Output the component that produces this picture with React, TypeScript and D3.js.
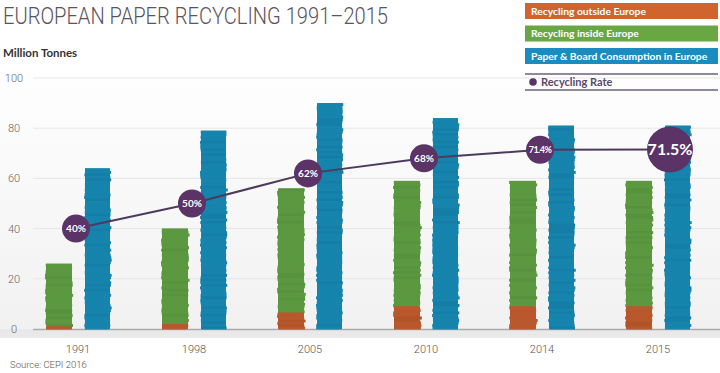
import React from "react";
import * as d3 from "d3";

const width = 720;
const height = 373;
const margin = { top: 78, right: 0, bottom: 44, left: 33 };

// data (million tonnes / percent)
const years = ["1991", "1998", "2005", "2010", "2014", "2015"];
const outsideEurope = [1, 2, 6.5, 9, 9, 9];
const insideEurope = [25, 38, 49.5, 50, 50, 50];
const consumption = [64, 79, 90, 84, 81, 81];
const recyclingRate = [40, 50, 62, 68, 71.4, 71.5];
const rateLabels = ["40%", "50%", "62%", "68%", "71.4%", "71.5%"];
const yTicks = [0, 20, 40, 60, 80, 100];

const legendItems = [
  { label: "Recycling outside Europe", color: "#cf642f" },
  { label: "Recycling inside Europe", color: "#69a742" },
  { label: "Paper & Board Consumption in Europe", color: "#1b8cbf" },
];

const colors = {
  orange: "#b8582c",
  green: "#5b9840",
  blue: "#1684ad",
  purple: "#5b3366",
  line: "#4e3a5c",
};

// deterministic wobble for the "paper stack" edges
function wobble(n: number) {
  const s = Math.sin(n * 12.9898 + 78.233) * 43758.5453;
  return s - Math.floor(s);
}

function PaperStack(props: {
  x: number;
  y0: number;
  y1: number;
  w: number;
  color: string;
  seed: number;
}) {
  const { x, y0, y1, w, color, seed } = props;
  const strip = 2.5;
  const n = Math.max(1, Math.round((y1 - y0) / strip));
  const h = (y1 - y0) / n;
  const base = d3.color(color)!;
  const strips = d3.range(n).map((i) => {
    const a = wobble(seed * 131 + i);
    const b = wobble(seed * 71 + i * 3.1);
    const c = wobble(seed * 17 + i * 5.7);
    const dx = (a - 0.5) * 2;
    const dw = (b - 0.5) * 2;
    const fill = c > 0.8 ? base.darker(0.12) : base;
    return (
      <rect
        key={i}
        x={x + dx}
        y={y0 + i * h}
        width={w + dw}
        height={h + 0.5}
        fill={fill.toString()}
      />
    );
  });
  return (
    <g>
      <rect x={x} y={y0} width={w} height={y1 - y0} fill={color} />
      {strips}
    </g>
  );
}

function Chart() {
  const xScale = d3.scalePoint().domain(years).range([78, 658]);
  const yScale = d3
    .scaleLinear()
    .domain([0, 100])
    .range([height - margin.bottom, margin.top]);
  const barW = 26;

  const ratePoints: [number, number][] = years.map((yr, i) => [
    xScale(yr)! + (i === years.length - 1 ? 12 : -2),
    yScale(recyclingRate[i]),
  ]);
  const line = d3.line();

  return (
    <svg
      width={width}
      height={height}
      style={{ position: "fixed", left: 0, top: 0, background: "#fff" }}
    >
      <defs>
        <linearGradient id="bg" x1="0" y1="0" x2="0" y2="1">
          <stop offset="0" stopColor="#ffffff" />
          <stop offset="1" stopColor="#f1f1f1" />
        </linearGradient>
      </defs>
      <rect x={0} y={60} width={width} height={yScale(0) - 60} fill="url(#bg)" />
      <rect x={0} y={yScale(0)} width={width} height={9} fill="#e9e9e9" />

      {/* title */}
      <text
        x={3}
        y={24}
        fontFamily="Roboto"
        fontWeight={300}
        fontSize={24}
        fill="#5a5360"
        textLength={385}
        lengthAdjust="spacingAndGlyphs"
      >
        EUROPEAN PAPER RECYCLING 1991–2015
      </text>
      <text x={3} y={57} fontFamily="Lato" fontWeight={700} fontSize={11.5} fill="#333">
        Million Tonnes
      </text>

      {/* grid + y ticks */}
      {yTicks.map((t) => (
        <g key={t}>
          {t > 0 && (
            <line
              x1={margin.left}
              x2={width}
              y1={yScale(t)}
              y2={yScale(t)}
              stroke="#e6e6e6"
              strokeWidth={1}
            />
          )}
          <text
            x={14}
            y={yScale(t) + 4}
            textAnchor="middle"
            fontFamily="Roboto"
            fontWeight={300}
            fontSize={11}
            fill="#666"
          >
            {t}
          </text>
        </g>
      ))}
      <line
        x1={margin.left}
        x2={width}
        y1={yScale(0) + 0.5}
        y2={yScale(0) + 0.5}
        stroke="#aaaaaa"
        strokeWidth={1.5}
      />

      {/* bars */}
      {years.map((yr, i) => {
        const cx = xScale(yr)!;
        const gx = cx - 19 - barW / 2;
        const bx = cx + 20 - barW / 2;
        return (
          <g key={yr}>
            <PaperStack
              x={gx}
              y0={yScale(outsideEurope[i] + insideEurope[i])}
              y1={yScale(outsideEurope[i])}
              w={barW}
              color={colors.green}
              seed={i * 3 + 1}
            />
            <PaperStack
              x={gx}
              y0={yScale(outsideEurope[i])}
              y1={yScale(0)}
              w={barW}
              color={colors.orange}
              seed={i * 3 + 2}
            />
            <PaperStack
              x={bx}
              y0={yScale(consumption[i])}
              y1={yScale(0)}
              w={barW - 1}
              color={colors.blue}
              seed={i * 3 + 3}
            />
            <text
              x={cx}
              y={353}
              textAnchor="middle"
              fontFamily="Roboto"
              fontWeight={300}
              fontSize={11}
              fill="#555"
            >
              {yr}
            </text>
          </g>
        );
      })}

      {/* recycling rate */}
      <path d={line(ratePoints) ?? ""} fill="none" stroke={colors.line} strokeWidth={2} />
      {ratePoints.map(([px, py], i) => {
        const big = i === ratePoints.length - 1;
        const label = rateLabels[i];
        return (
          <g key={label}>
            <circle cx={px} cy={py} r={big ? 23 : 14} fill={colors.purple} />
            <text
              x={px}
              y={py + (big ? 5.5 : 3.5)}
              textAnchor="middle"
              fontFamily="Lato"
              fontWeight={700}
              fontSize={big ? 16 : label.length > 4 ? 9 : 10}
              letterSpacing={label.length > 4 && !big ? -0.5 : 0}
              fill="#fff"
            >
              {label}
            </text>
          </g>
        );
      })}

      {/* legend */}
      {legendItems.map((d, i) => (
        <g key={d.label} transform={`translate(525,${3 + i * 22.5})`}>
          <rect width={193} height={16} fill={d.color} />
          <text
            x={6}
            y={11.5}
            fontFamily="Lato"
            fontWeight={700}
            fontSize={10.3}
            fill="#fff"
          >
            {d.label}
          </text>
        </g>
      ))}
      <line x1={525} x2={718} y1={74} y2={74} stroke="#6e5f7a" strokeWidth={1.5} />
      <line x1={525} x2={718} y1={90} y2={90} stroke="#6e5f7a" strokeWidth={1.5} />
      <circle cx={533} cy={82} r={3.8} fill={colors.purple} />
      <text x={541} y={86} fontFamily="Lato" fontWeight={700} fontSize={11} fill="#5a4868">
        Recycling Rate
      </text>

      <text x={10} y={368} fontFamily="Roboto" fontWeight={300} fontSize={9.5} fill="#555">
        Source: CEPI 2016
      </text>
    </svg>
  );
}

export default function App() {
  return <Chart />;
}
